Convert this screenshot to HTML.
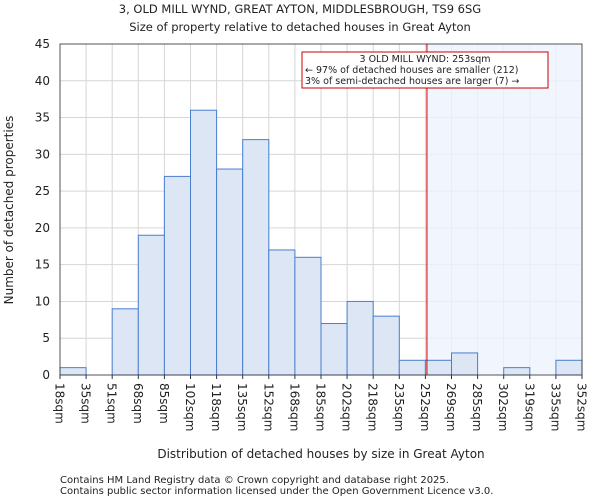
<!DOCTYPE html>
<html><head><meta charset="utf-8"><style>
body{margin:0;background:#fff;font-family:"DejaVu Sans","Liberation Sans",sans-serif;}
svg text{font-family:"DejaVu Sans","Liberation Sans",sans-serif;fill:#222;}
</style></head><body>
<svg id="chart" width="600" height="500" xmlns="http://www.w3.org/2000/svg">
<text x="300" y="13" font-size="11.5" text-anchor="middle">3, OLD MILL WYND, GREAT AYTON, MIDDLESBROUGH, TS9 6SG</text>
<text x="300" y="31" font-size="11.5" text-anchor="middle">Size of property relative to detached houses in Great Ayton</text>
<g id="grid"></g>
<g id="shade"></g>
<g id="bars"></g>
<g id="axes"></g>
<text x="321" y="458" font-size="12" text-anchor="middle">Distribution of detached houses by size in Great Ayton</text>
<text transform="translate(13,210) rotate(-90)" font-size="12" text-anchor="middle">Number of detached properties</text>
<text x="60" y="483" font-size="10">Contains HM Land Registry data © Crown copyright and database right 2025.</text>
<text x="60" y="494" font-size="10">Contains public sector information licensed under the Open Government Licence v3.0.</text>
</svg>
<script>
const binLabels=["18sqm","35sqm","51sqm","68sqm","85sqm","102sqm","118sqm","135sqm","152sqm","168sqm","185sqm","202sqm","218sqm","235sqm","252sqm","269sqm","285sqm","302sqm","319sqm","335sqm","352sqm"];
const binEdges=[18,35,51,68,85,102,118,135,152,168,185,202,218,235,252,269,285,302,319,335,352];
const counts=[1,0,9,19,27,36,28,32,17,16,7,10,8,2,2,3,0,1,0,2];
const yTicks=[0,5,10,15,20,25,30,35,40,45];
const markerValue=253;
const annotationLines=["3 OLD MILL WYND: 253sqm","← 97% of detached houses are smaller (212)","3% of semi-detached houses are larger (7) →"];
const NS="http://www.w3.org/2000/svg";
const L=60,R=582,T=44,B=375,nb=counts.length,bw=(R-L)/nb;
const yS=v=>B-(v/45)*(B-T);
const xIdx=i=>L+i*bw;
function xVal(v){for(let i=0;i<binEdges.length-1;i++){if(v>=binEdges[i]&&v<=binEdges[i+1])return xIdx(i)+(v-binEdges[i])/(binEdges[i+1]-binEdges[i])*bw;}return R;}
function mk(tag,attrs,parent,txt){const e=document.createElementNS(NS,tag);for(const k in attrs)e.setAttribute(k,attrs[k]);if(txt!=null)e.textContent=txt;parent.appendChild(e);return e;}
const grid=document.getElementById('grid'),bars=document.getElementById('bars'),axes=document.getElementById('axes'),shade=document.getElementById('shade');
yTicks.forEach(t=>{const l=mk('line',{x1:L,x2:R,y1:yS(t),y2:yS(t),stroke:'#d6d6d6','stroke-width':1},grid);


const tx=mk('text',{x:L-10,y:yS(t)+4,'font-size':12,'text-anchor':'end'},axes,String(t));

});
for(let i=0;i<=nb;i++){const l=mk('line',{x1:xIdx(i),x2:xIdx(i),y1:T,y2:B,stroke:'#d6d6d6','stroke-width':1},grid);

}
const mx=xVal(markerValue);
const sr=mk('rect',{x:mx,y:T,width:R-mx,height:B-T,fill:'#eef2fc','fill-opacity':0.8},shade);


counts.forEach((c,i)=>{if(c<=0)return;const r=mk('rect',{x:xIdx(i),y:yS(c),width:bw,height:B-yS(c),fill:'#dce6f4',stroke:'#4a7fcf','stroke-width':1},bars);

});
const ml=mk('line',{x1:mx,x2:mx,y1:T,y2:B,stroke:'#cc0000','stroke-width':1},axes);


const ax=mk('rect',{x:L,y:T,width:R-L,height:B-T,fill:'none',stroke:'#333','stroke-width':0.8},axes);


binLabels.forEach((lb,i)=>{const x=xIdx(i);mk('line',{x1:x,x2:x,y1:B,y2:B+4,stroke:'#333'},axes);
const t=mk('text',{transform:`translate(${x-4.5},${B+8}) rotate(90)`,'font-size':12,'text-anchor':'start'},axes,lb);

});
const ab=mk('rect',{x:302,y:52,width:246,height:36,fill:'#fff',stroke:'#cc0000','stroke-width':1},axes);


annotationLines.forEach((s,k)=>{const t=mk('text',{x:k==0?425:305,y:62+k*11,'font-size':9.5,'text-anchor':k==0?'middle':'start'},axes,s);

});
</script>
</body></html>
